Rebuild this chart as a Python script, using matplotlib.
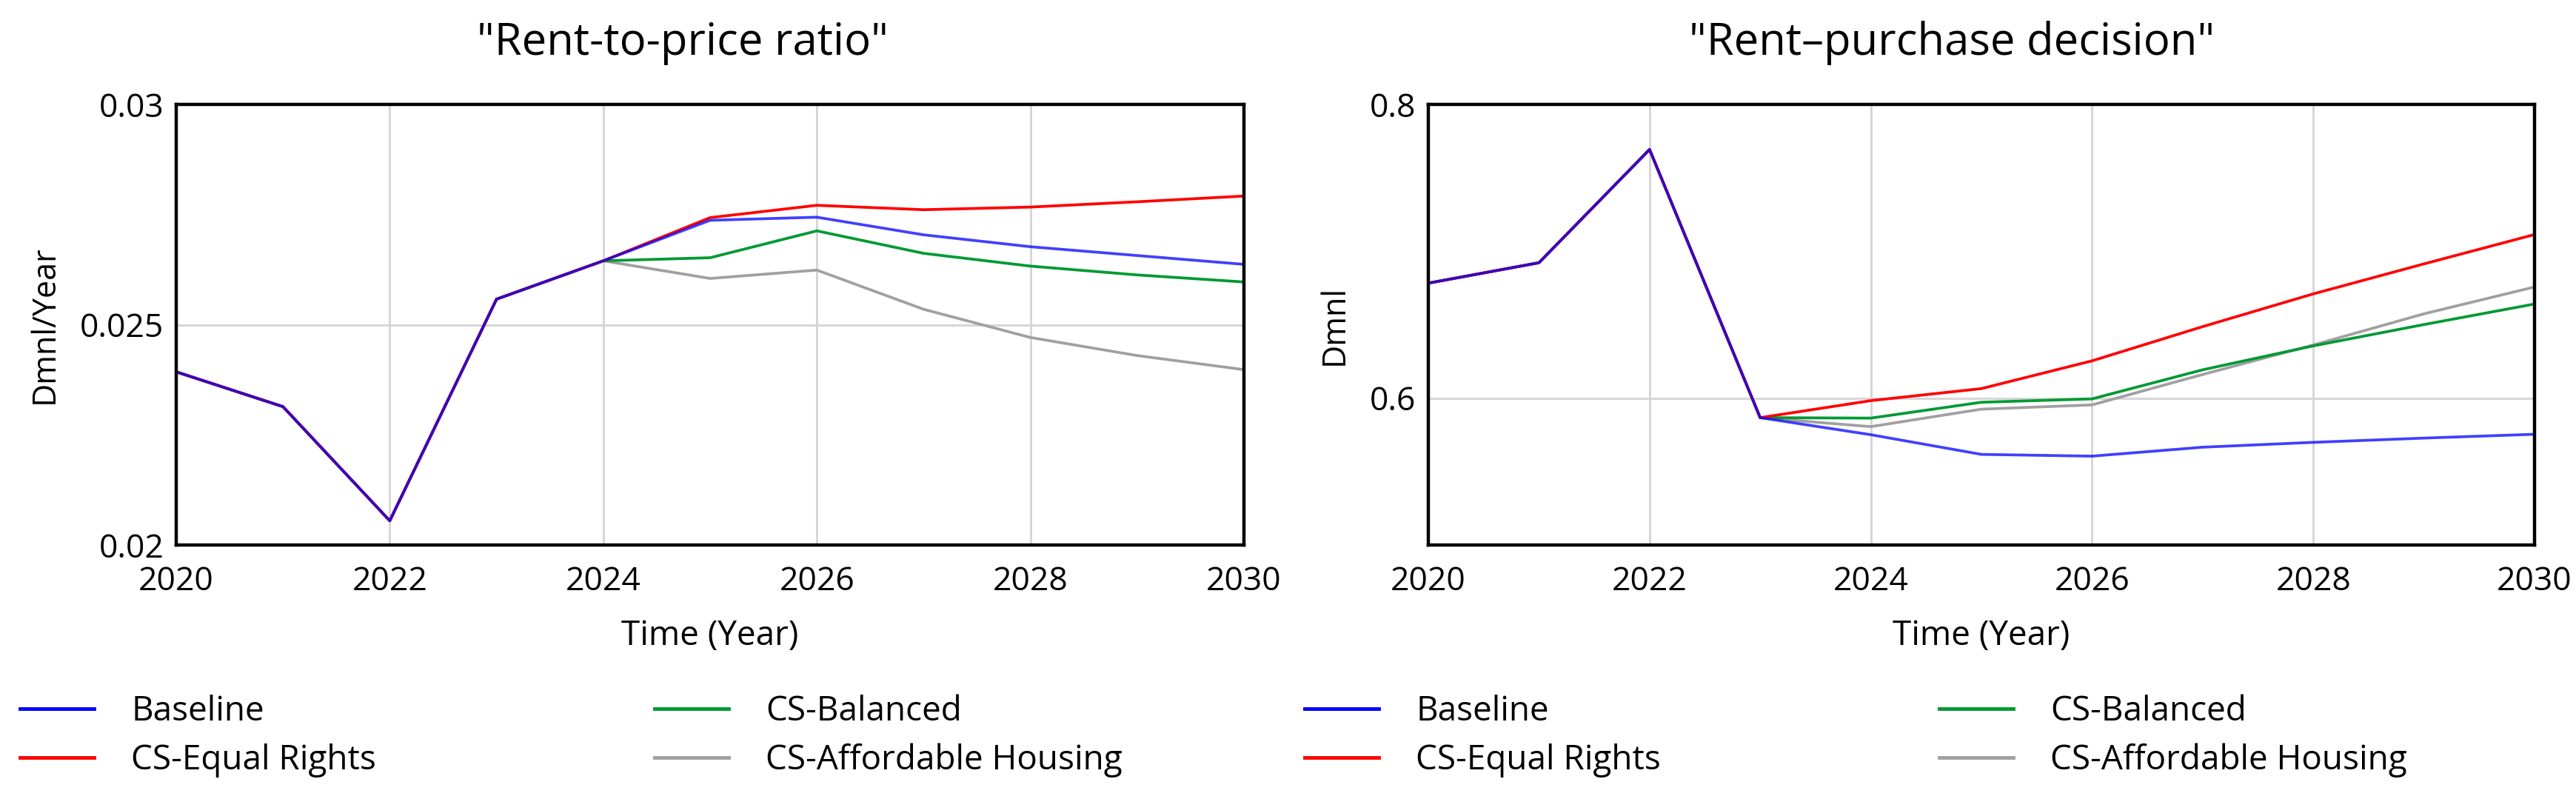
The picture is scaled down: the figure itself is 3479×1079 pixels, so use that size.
import numpy as np
import matplotlib
matplotlib.use("Agg")
import matplotlib.pyplot as plt
from matplotlib.lines import Line2D

plt.rcParams['font.family'] = ['Open Sans', 'DejaVu Sans']

years = np.arange(2020, 2031)
scenarios = ["Baseline", "CS-Equal Rights", "CS-Balanced", "CS-Affordable Housing"]
colors = {"Baseline": "#0000ff", "CS-Equal Rights": "#ff0000",
          "CS-Balanced": "#009933", "CS-Affordable Housing": "#a0a0a0"}

# rent-to-price ratio (Dmnl/Year)
rp_common = [0.02393, 0.02314, 0.02055, 0.02558, 0.02645]
rp_baseline = rp_common + [0.02737, 0.02744, 0.02704, 0.02677, 0.02657, 0.02637]
rp_equal = rp_common + [0.02743, 0.02771, 0.02761, 0.02767, 0.02779, 0.02792]
rp_balanced = rp_common + [0.02652, 0.02713, 0.02662, 0.02633, 0.02613, 0.02597]
rp_afford = rp_common + [0.02605, 0.02624, 0.02535, 0.02471, 0.02430, 0.02398]

# rent-purchase decision (Dmnl)
rd_common = [0.6783, 0.6922, 0.7693, 0.5867]
rd_baseline = rd_common + [0.5751, 0.5617, 0.5605, 0.5666, 0.5699, 0.5728, 0.5754]
rd_equal = rd_common + [0.5983, 0.6065, 0.6254, 0.6487, 0.6710, 0.6914, 0.7114]
rd_balanced = rd_common + [0.5864, 0.5972, 0.5995, 0.6193, 0.6356, 0.6501, 0.6641]
rd_afford = rd_common + [0.5806, 0.5925, 0.5954, 0.6161, 0.6362, 0.6574, 0.6757]

charts = [
    {"title": '"Rent-to-price ratio"', "ylabel": "Dmnl/Year",
     "ylim": (0.02, 0.03), "yticks": [0.02, 0.025, 0.03],
     "yticklabels": ["0.02", "0.025", "0.03"], "hgrid": [0.025],
     "series": {"Baseline": rp_baseline, "CS-Equal Rights": rp_equal,
                "CS-Balanced": rp_balanced, "CS-Affordable Housing": rp_afford}},
    {"title": '"Rent\u2013purchase decision"', "ylabel": "Dmnl",
     "ylim": (0.5, 0.8), "yticks": [0.6, 0.8],
     "yticklabels": ["0.6", "0.8"], "hgrid": [0.6],
     "series": {"Baseline": rd_baseline, "CS-Equal Rights": rd_equal,
                "CS-Balanced": rd_balanced, "CS-Affordable Housing": rd_afford}},
]

W, H = 3479, 1079
fig = plt.figure(figsize=(W / 100, H / 100), dpi=100)

boxes = [(238, 141, 1680, 736), (1929, 141, 3423, 736)]
title_x = [922, 2636]
legend_x = [27, 1762]
draw_order = ["CS-Affordable Housing", "CS-Balanced", "CS-Equal Rights", "Baseline"]

for ch, (x0, y0, x1, y1), tx, lx in zip(charts, boxes, title_x, legend_x):
    ax = fig.add_axes([x0 / W, 1 - y1 / H, (x1 - x0) / W, (y1 - y0) / H])
    for name in draw_order:
        alpha = 0.75 if name == "Baseline" else 1.0
        ax.plot(years, ch["series"][name], color=colors[name], lw=2.7,
                alpha=alpha, solid_joinstyle='round')
    ax.set_xlim(2020, 2030)
    ax.set_ylim(*ch["ylim"])
    ax.set_xticks(range(2020, 2031, 2))
    ax.set_yticks(ch["yticks"])
    ax.set_yticklabels(ch["yticklabels"])
    for gx in [2022, 2024, 2026, 2028]:
        ax.axvline(gx, color="#d4d4d4", lw=2, zorder=0)
    for gy in ch["hgrid"]:
        ax.axhline(gy, color="#d4d4d4", lw=2, zorder=0)
    ax.tick_params(length=0, labelsize=32, pad=12)
    ax.tick_params(axis='x', pad=20)
    for s in ax.spines.values():
        s.set_linewidth(3.2)
        s.set_color("black")
    ax.set_xlabel("Time (Year)", fontsize=33, labelpad=20)
    ax.set_ylabel(ch["ylabel"], fontsize=31, labelpad=18)
    fig.text(tx / W, 1 - 58 / H, ch["title"], fontsize=43,
             ha="center", va="center")

    handles = [Line2D([], [], color=colors[n], lw=3.5) for n in scenarios]
    fig.legend(handles, scenarios, loc="upper left",
               bbox_to_anchor=(lx / W, 1 - 938 / H), ncol=2, frameon=False,
               fontsize=33, handlelength=2.18, handletextpad=1.1,
               columnspacing=8.2, labelspacing=0.43, borderpad=0,
               borderaxespad=0)

fig.savefig("out.png", dpi=100)
